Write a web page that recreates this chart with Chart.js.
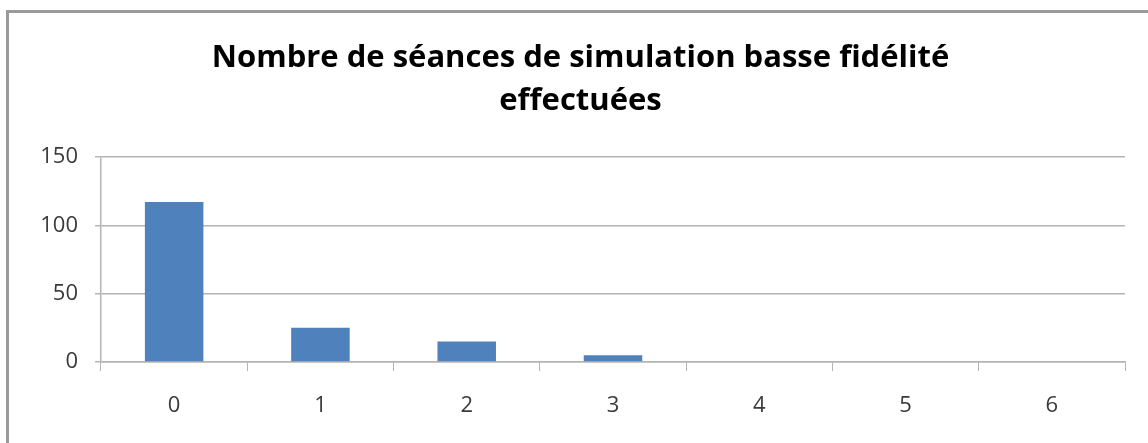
<!DOCTYPE html>
<html>
<head>
<meta charset="utf-8">
<script src="https://cdn.jsdelivr.net/npm/chart.js@4"></script>
<style>
    html, body { margin: 0; padding: 0; background: #fff; }
    #wrap { position: relative; width: 1148px; height: 443px; overflow: hidden; }
    #frame { position: absolute; left: 6px; top: 10px; width: 1200px; height: 500px;
             border-left: 3px solid #9a9a9a; border-top: 3px solid #9a9a9a; box-sizing: border-box; }
    canvas { position: absolute; left: 0; top: 0; }
</style>
</head>
<body>
<div id="wrap">
    <div id="frame"></div>
    <canvas id="chart" width="1148" height="443"></canvas>
</div>
<script>
// data
const titleLines = ['Nombre de séances de simulation basse fidélité', 'effectuées'];
const categories = ['0', '1', '2', '3', '4', '5', '6'];
const seances = [117, 25, 15, 5, 0, 0, 0];
const yTicks = [0, 50, 100, 150];

const gridColor = '#b4b4b4';
const textFont = "'Open Sans', sans-serif";

const ctx = document.getElementById('chart').getContext('2d');
new Chart(ctx, {
    type: 'bar',
    data: {
        labels: categories,
        datasets: [{
            data: seances,
            backgroundColor: '#4f81bd',
            borderWidth: 0,
            barPercentage: 0.4,
            categoryPercentage: 1
        }]
    },
    options: {
        responsive: false,
        animation: false,
        // left padding pushes the title centre right, y axis box is shrunk to match
        layout: { padding: { left: 36, right: 23, top: 0, bottom: 0 } },
        plugins: {
            legend: { display: false },
            tooltip: { enabled: false },
            title: {
                display: true,
                text: titleLines,
                color: '#000',
                font: { family: textFont, size: 31, weight: 'bold', lineHeight: 1.387 },
                padding: { top: 37, bottom: 34 }
            }
        },
        scales: {
            x: {
                grid: { drawOnChartArea: false, drawTicks: true, tickLength: 9, color: gridColor, offset: true },
                border: { color: gridColor, width: 1.5 },
                ticks: { color: '#3a3a3a', font: { family: textFont, size: 22 }, padding: 22 },
                afterFit: s => { s.height = 81; }
            },
            y: {
                min: 0,
                max: 150,
                afterBuildTicks: s => { s.ticks = yTicks.map(v => ({ value: v })); },
                grid: { color: gridColor, lineWidth: 1.5, tickLength: 6 },
                border: { color: gridColor, width: 1.5 },
                ticks: { color: '#3a3a3a', font: { family: textFont, size: 22 }, padding: 17 },
                afterFit: s => { s.width = 65; }
            }
        }
    }
});
</script>
</body>
</html>
